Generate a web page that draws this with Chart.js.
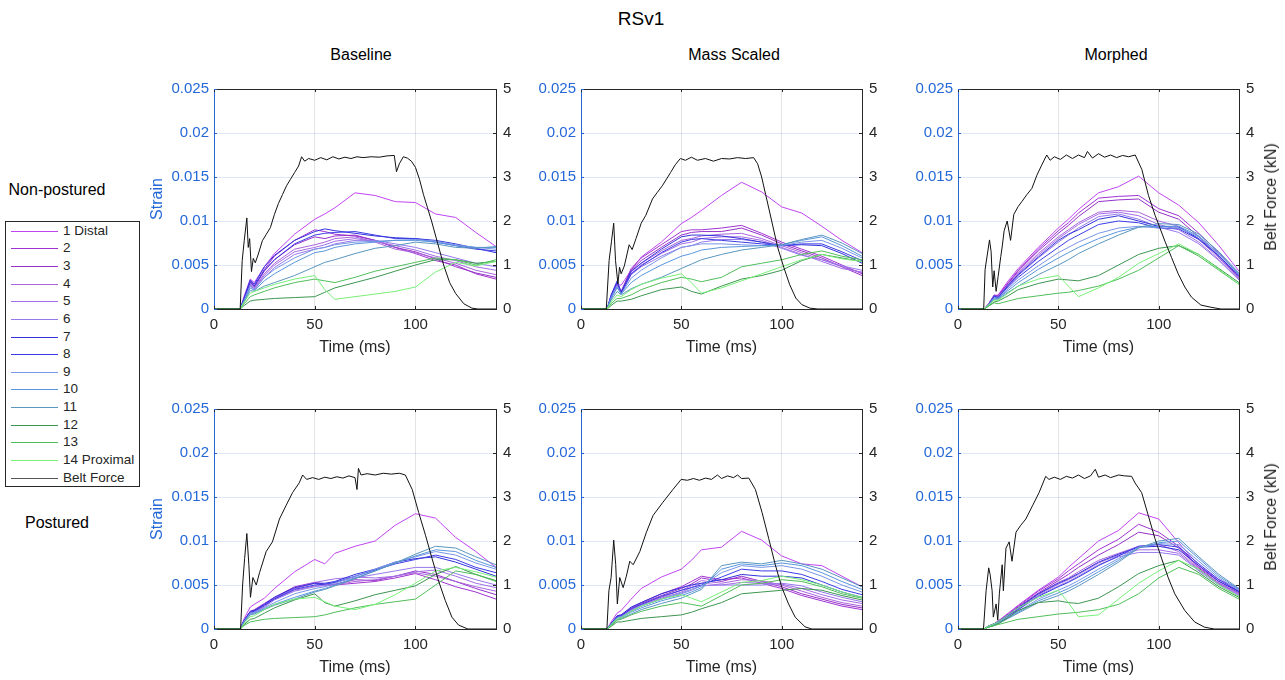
<!DOCTYPE html>
<html>
<head>
<meta charset="utf-8">
<script src="https://cdn.jsdelivr.net/npm/chart.js@4.4.1/dist/chart.umd.min.js"></script>
<style>
  body { margin: 0; background: #fff; }
  #fig { position: relative; width: 1285px; height: 680px; overflow: hidden;
         font-family: "Liberation Sans", Arial, Helvetica, sans-serif; color: #262626; background: #fff; }
  #fig canvas { position: absolute; }
  .lbl { position: absolute; white-space: nowrap; transform: translate(-50%, -50%); line-height: 1; }
  .rot { transform: translate(-50%, -50%) rotate(-90deg); }
  #legendBox { position: absolute; left: 5px; top: 221px; width: 135px; height: 266px;
               border: 1px solid #262626; box-sizing: border-box; background: #fff; }
  .legLine { position: absolute; left: 11px; width: 47px; height: 1px; }
  .legText { position: absolute; left: 63px; font-size: 13.5px; line-height: 1; transform: translateY(-50%); white-space: nowrap; }
</style>
</head>
<body>
<div id="fig">
  <div class="lbl" style="left:641px;top:18px;font-size:19px;color:#000">RSv1</div>
  <div id="legendBox"></div>
</div>
<script>
// time axis shared by all strain traces (ms)
const tStrain = [0, 13, 15, 18, 20, 25, 30, 40, 50, 55, 60, 70, 80, 90, 100, 110, 120, 130, 140];

const seriesNames = ['1 Distal', '2', '3', '4', '5', '6', '7', '8', '9', '10', '11', '12', '13', '14 Proximal'];
const seriesColors = ['#c044f2', '#a032d2', '#9632c8', '#aa64dc', '#a46ee6', '#9678eb', '#3232dc',
                      '#3c3ce6', '#7896e6', '#5a96dc', '#5a96be', '#3c9650', '#50be5a', '#78f078'];
const beltName = 'Belt Force';
const beltColor = '#111111';

const columnTitles = ['Baseline', 'Mass Scaled', 'Morphed'];
const rowTitles = ['Non-postured', 'Postured'];

// strain values, in units of 0.001 (one row per gauge, 1 Distal .. 14 Proximal)
const strainBaselineNP = [
  [0,0,1.5,3.4,3.0,4.8,6.3,8.5,10.2,10.8,11.5,13.2,12.9,12.2,12.1,10.8,10.4,8.7,7.1],
  [0,0,1.2,3.2,2.6,4.5,6.0,7.8,9.0,8.8,8.5,8.3,7.8,7.0,6.3,5.5,5.0,4.0,3.4],
  [0,0,1.1,3.0,2.5,4.3,5.6,7.3,8.2,8.0,8.3,8.4,7.8,7.0,6.5,5.7,4.8,4.1,3.6],
  [0,0,1.0,2.9,2.4,4.0,5.2,6.8,7.3,7.6,8.0,8.2,7.6,6.8,6.4,5.8,5.2,4.4,3.9],
  [0,0,1.0,2.8,2.3,3.8,5.0,6.5,7.0,7.3,7.7,8.0,7.7,7.2,6.7,6.0,5.5,4.8,4.4],
  [0,0,0.9,2.7,2.2,3.6,4.7,6.2,6.8,7.0,7.4,7.8,7.8,7.4,7.0,6.4,5.8,5.2,4.8],
  [0,0,1.3,3.3,2.8,4.8,6.1,7.8,8.8,9.1,8.9,8.6,8.3,8.1,8.0,7.8,7.4,6.9,6.4],
  [0,0,1.2,3.1,2.6,4.4,5.6,7.4,8.4,8.6,8.7,8.8,8.4,8.0,8.0,7.6,7.2,6.8,6.6],
  [0,0,1.0,2.6,2.2,3.6,4.5,5.8,6.8,7.0,7.3,7.6,7.7,7.8,7.9,7.7,7.3,7.0,6.8],
  [0,0,0.9,2.4,2.1,3.2,4.0,5.3,6.4,6.6,7.0,7.4,7.6,7.8,7.8,7.6,7.2,7.0,7.0],
  [0,0,0.8,2.1,2.0,2.6,3.0,3.8,4.8,5.3,5.6,6.3,6.9,7.2,7.6,7.4,7.0,6.9,7.1],
  [0,0,0.4,0.9,1.0,1.1,1.2,1.3,1.4,1.9,2.4,3.0,3.6,4.3,5.0,5.6,5.6,5.2,5.4],
  [0,0,0.6,1.4,1.6,2.0,2.4,3.0,3.4,3.2,3.0,3.6,4.3,4.8,5.3,5.8,5.6,5.0,5.6],
  [0,0,0.8,1.8,2.0,2.4,2.8,3.4,3.8,2.2,1.1,1.4,1.7,2.0,2.5,4.2,5.3,4.9,5.4]
];
const strainMassNP = [
  [0,0,1.2,2.8,2.7,4.4,5.9,7.6,9.7,10.4,11.2,12.9,14.4,13.3,11.6,10.9,9.4,7.8,6.4],
  [0,0,1.5,3.0,2.0,4.6,5.8,7.3,8.8,9.0,9.0,9.2,9.5,8.6,7.6,6.8,6.0,5.0,4.0],
  [0,0,1.4,2.9,1.9,4.4,5.5,7.0,8.4,8.7,8.8,8.8,9.2,8.4,7.4,6.6,5.8,4.8,3.8],
  [0,0,1.3,2.8,1.8,4.2,5.2,6.6,7.8,8.0,8.3,8.5,8.6,8.0,7.2,6.4,5.6,4.8,4.1],
  [0,0,1.2,2.7,1.8,4.0,5.0,6.3,7.4,7.6,8.0,8.2,8.2,7.8,7.0,6.2,5.4,4.6,4.2],
  [0,0,1.2,2.6,1.8,3.9,4.8,6.0,7.0,7.2,7.6,7.9,7.9,7.6,6.9,6.1,5.6,4.9,4.4],
  [0,0,1.6,3.2,1.9,4.3,5.2,6.8,8.2,8.4,8.4,8.3,8.0,7.6,7.2,7.3,7.2,6.3,5.2],
  [0,0,1.5,3.0,1.8,4.0,4.9,6.4,7.6,7.9,8.0,7.8,7.6,7.4,7.2,7.4,7.4,6.5,5.5],
  [0,0,1.3,2.6,1.7,3.5,4.4,5.8,7.0,7.2,7.4,7.4,7.3,7.2,7.2,7.6,7.8,6.9,5.8],
  [0,0,1.2,2.4,1.7,3.0,3.8,5.0,6.0,6.3,6.7,7.0,7.1,7.2,7.3,7.8,8.2,7.2,6.0],
  [0,0,1.0,2.0,1.6,2.3,2.8,3.6,4.6,5.1,5.6,6.2,6.7,7.0,7.3,7.9,8.4,7.5,6.3],
  [0,0,0.4,0.9,0.9,1.1,1.5,2.2,2.5,2.0,1.7,2.6,3.4,3.8,4.4,5.5,6.2,5.8,5.4],
  [0,0,0.6,1.2,1.2,1.6,2.2,3.0,3.6,3.4,3.1,3.6,4.8,5.2,5.6,6.2,6.6,6.0,5.6],
  [0,0,0.8,1.6,1.4,2.2,2.8,3.5,4.0,3.0,1.8,2.4,3.2,4.0,4.8,5.6,6.2,5.7,5.4]
];
const strainMorphedNP = [
  [0,0,0.5,1.5,1.6,3.2,4.6,7.0,9.2,10.2,11.3,13.2,13.9,15.1,13.2,11.8,9.8,7.2,4.3],
  [0,0,0.5,1.6,1.5,3.0,4.4,6.8,8.9,9.8,10.9,12.6,12.8,12.9,11.4,10.6,8.6,6.4,3.9],
  [0,0,0.5,1.5,1.5,2.9,4.3,6.6,8.6,9.5,10.5,12.2,12.4,12.5,11.0,10.2,8.2,6.0,3.6],
  [0,0,0.5,1.5,1.4,2.8,4.1,6.3,8.2,9.0,9.8,11.0,11.2,11.0,10.0,9.4,7.9,5.8,3.5],
  [0,0,0.5,1.4,1.4,2.7,4.0,6.1,8.0,8.8,9.6,10.8,11.0,10.6,9.6,9.0,7.6,5.6,3.4],
  [0,0,0.4,1.4,1.3,2.6,3.8,5.8,7.6,8.4,9.2,10.5,10.8,10.2,9.3,8.7,7.4,5.5,3.3],
  [0,0,0.4,1.5,1.3,2.7,3.9,5.9,7.8,8.5,9.0,10.2,10.6,10.0,9.4,9.3,8.0,6.0,3.8],
  [0,0,0.4,1.4,1.3,2.5,3.6,5.4,7.0,7.8,8.4,9.6,10.0,9.8,9.2,9.1,7.9,6.0,3.7],
  [0,0,0.4,1.3,1.2,2.3,3.3,4.9,6.4,7.0,7.6,8.6,9.2,9.4,9.2,9.2,8.2,6.2,3.9],
  [0,0,0.4,1.2,1.2,2.1,3.0,4.5,5.8,6.4,7.0,8.0,8.8,9.3,9.4,9.4,8.3,6.3,4.0],
  [0,0,0.3,1.1,1.1,1.9,2.6,3.9,5.0,5.6,6.3,7.4,8.4,9.3,9.7,9.6,8.5,6.5,4.1],
  [0,0,0.3,0.8,0.9,1.5,2.2,2.9,3.4,3.3,3.2,3.8,5.0,6.2,6.9,7.2,6.2,4.6,3.0],
  [0,0,0.3,0.7,0.6,0.9,1.2,1.5,1.8,1.9,2.1,2.6,3.4,4.4,5.8,7.2,6.0,4.4,2.8],
  [0,0,0.4,1.0,1.0,1.8,2.6,3.4,3.8,2.6,1.4,2.4,3.6,5.2,6.3,7.4,6.2,4.5,2.8]
];
const strainBaselineP = [
  [0,0,1.2,2.5,2.8,3.5,4.6,6.5,7.9,7.4,8.6,9.4,10.0,11.8,13.1,12.6,10.4,8.8,7.0],
  [0,0,1.0,2.0,2.2,2.9,3.6,4.8,5.3,5.1,5.0,5.2,5.4,5.8,6.3,5.6,4.8,4.2,3.4],
  [0,0,1.0,2.0,2.1,2.8,3.5,4.6,5.2,5.0,5.1,5.6,5.5,6.0,6.6,6.2,5.4,4.6,3.9],
  [0,0,0.9,1.9,2.0,2.6,3.4,4.4,4.9,4.9,5.0,5.4,5.6,6.0,6.4,6.0,5.4,4.8,4.3],
  [0,0,0.9,1.9,2.0,2.6,3.5,4.6,5.3,5.5,5.7,5.9,5.8,6.0,6.5,6.7,6.0,5.2,4.7],
  [0,0,0.9,1.8,1.9,2.5,3.3,4.3,4.8,5.0,5.3,5.8,6.2,6.6,7.0,7.0,6.3,5.6,5.0],
  [0,0,1.0,2.0,2.1,2.8,3.6,4.7,5.2,5.2,5.4,6.2,6.8,7.6,8.0,8.2,7.6,6.8,6.0],
  [0,0,1.0,1.9,2.0,2.7,3.4,4.5,5.0,5.1,5.3,6.0,6.7,7.4,7.9,8.4,7.9,7.0,6.4],
  [0,0,0.9,1.8,1.9,2.4,3.0,4.0,4.6,4.8,5.2,6.0,6.8,7.6,8.2,8.8,8.4,7.5,6.8],
  [0,0,0.8,1.7,1.8,2.3,2.8,3.6,4.3,4.6,5.0,5.8,6.6,7.5,8.3,9.0,8.8,7.8,7.0],
  [0,0,0.8,1.6,1.7,2.2,2.7,3.4,4.2,4.5,4.9,5.7,6.6,7.5,8.5,9.4,9.2,8.2,7.3],
  [0,0,0.5,1.1,1.2,1.8,2.4,3.3,4.0,3.0,2.6,3.2,3.9,4.4,4.9,6.2,7.1,6.2,5.5],
  [0,0,0.4,0.8,0.9,1.1,1.2,1.3,1.4,1.6,1.9,2.4,2.8,3.1,3.4,5.0,6.6,6.2,5.4],
  [0,0,0.6,1.4,1.5,2.2,2.8,3.4,3.6,3.1,2.6,2.2,2.8,3.9,5.2,6.6,7.0,6.5,5.9]
];
const strainMassP = [
  [0,0,0.8,1.8,2.1,3.4,4.6,5.9,6.8,7.8,9.0,9.3,11.1,10.1,8.3,7.4,7.2,6.0,4.8],
  [0,0,0.6,1.5,1.6,2.4,3.0,4.0,4.8,5.4,6.0,5.6,5.8,5.2,4.6,3.8,3.2,2.6,2.2],
  [0,0,0.6,1.4,1.5,2.3,2.9,3.8,4.6,5.1,5.8,5.4,6.0,5.4,4.8,4.0,3.4,2.8,2.4],
  [0,0,0.6,1.4,1.5,2.2,2.8,3.6,4.4,4.9,5.5,5.2,5.6,5.5,5.0,4.3,3.6,3.0,2.6],
  [0,0,0.5,1.3,1.4,2.1,2.7,3.5,4.2,4.7,5.2,5.0,5.3,5.2,5.1,4.6,3.9,3.3,2.9],
  [0,0,0.5,1.3,1.4,2.0,2.6,3.4,4.0,4.4,4.9,5.0,5.0,5.0,5.2,4.9,4.2,3.6,3.1],
  [0,0,0.6,1.5,1.6,2.5,3.0,4.0,4.7,5.0,5.2,5.6,6.2,6.0,6.0,5.8,5.0,4.2,3.6],
  [0,0,0.6,1.4,1.5,2.3,2.8,3.7,4.4,4.7,5.0,5.9,6.8,6.6,6.6,6.2,5.4,4.5,3.9],
  [0,0,0.5,1.3,1.4,2.1,2.6,3.4,4.1,4.5,4.9,6.4,7.2,7.0,7.2,6.8,6.0,5.0,4.2],
  [0,0,0.5,1.2,1.3,1.9,2.4,3.2,3.8,4.2,4.7,6.8,7.4,7.2,7.5,7.2,6.4,5.4,4.5],
  [0,0,0.4,1.1,1.2,1.7,2.2,2.9,3.5,4.0,4.5,7.2,7.6,7.4,7.8,7.4,6.8,5.8,4.8],
  [0,0,0.3,0.8,0.8,1.0,1.2,1.4,1.6,1.9,2.3,3.0,4.0,4.2,4.4,4.6,4.4,3.8,3.3],
  [0,0,0.4,1.0,1.1,1.6,2.0,2.6,3.0,2.8,2.6,3.8,5.0,5.2,5.6,5.4,4.8,4.0,3.5],
  [0,0,0.5,1.2,1.3,2.0,2.6,3.4,3.9,3.5,3.1,4.2,5.3,5.5,6.0,5.6,5.0,4.2,3.6]
];
const strainMorphedP = [
  [0,0,0.3,0.6,0.9,1.8,2.7,4.4,5.9,7.0,8.0,10.0,11.2,13.2,12.5,9.8,7.2,5.6,4.6],
  [0,0,0.3,0.6,0.9,1.7,2.6,4.3,5.7,6.6,7.4,9.0,10.2,11.9,11.0,9.4,7.0,5.4,4.3],
  [0,0,0.3,0.6,0.8,1.6,2.5,4.1,5.5,6.2,7.0,8.4,9.6,11.0,10.6,9.2,6.9,5.2,4.1],
  [0,0,0.3,0.5,0.8,1.6,2.4,4.0,5.3,5.8,6.5,7.8,8.6,9.4,9.6,8.8,6.8,5.2,4.0],
  [0,0,0.3,0.5,0.8,1.5,2.3,3.9,5.1,5.6,6.2,7.5,8.4,9.0,9.0,8.6,6.7,5.1,3.9],
  [0,0,0.3,0.5,0.7,1.5,2.2,3.8,4.9,5.4,6.0,7.3,8.2,8.7,8.7,8.4,6.6,5.0,3.8],
  [0,0,0.3,0.6,0.8,1.6,2.4,4.0,5.2,5.7,6.3,7.6,8.5,9.3,9.4,9.0,7.2,5.4,4.2],
  [0,0,0.3,0.5,0.8,1.5,2.2,3.7,4.8,5.3,5.9,7.2,8.3,9.4,9.6,9.3,7.4,5.6,4.3],
  [0,0,0.2,0.5,0.7,1.4,2.0,3.4,4.4,4.9,5.5,6.8,8.0,9.3,9.7,9.6,7.7,5.8,4.4],
  [0,0,0.2,0.5,0.7,1.3,1.9,3.2,4.1,4.6,5.2,6.5,7.8,9.2,9.8,10.0,8.0,6.0,4.5],
  [0,0,0.2,0.4,0.6,1.2,1.8,3.0,3.8,4.3,4.9,6.2,7.6,9.2,10.0,10.3,8.2,6.2,4.6],
  [0,0,0.2,0.4,0.6,1.3,2.1,3.0,3.2,3.0,2.9,3.5,4.8,6.3,7.2,7.8,6.4,4.8,3.6],
  [0,0,0.2,0.4,0.5,0.8,1.1,1.4,1.7,1.8,1.9,2.2,2.8,4.0,5.8,7.0,6.2,4.6,3.4],
  [0,0,0.3,0.6,0.8,1.6,2.4,3.6,4.4,3.0,1.4,1.6,3.4,5.2,6.6,7.8,6.8,5.0,3.7]
];

// belt force traces: [time (ms), force (kN)]
const beltBaselineNP = [[0,0],[13,0],[14,1.1],[15,1.55],[16.3,2.07],[17,1.4],[17.7,1.6],[18.6,0.85],[19.5,1.15],[20.5,1.05],[22,1.25],[24,1.55],[26,1.7],[28,1.85],[30,2.15],[32,2.4],[34,2.6],[36,2.8],[38,2.95],[40,3.1],[42,3.25],[43.5,3.46],[45,3.36],[47,3.42],[50,3.38],[53,3.44],[56,3.39],[59,3.46],[62,3.41],[65,3.45],[68,3.42],[71,3.46],[74,3.44],[78,3.46],[82,3.45],[86,3.48],[89.5,3.49],[90.6,3.12],[92,3.3],[94,3.46],[96,3.43],[98,3.36],[100,3.22],[102,2.95],[104,2.6],[106,2.3],[108,2.0],[111,1.5],[114,1.0],[117,0.6],[120,0.35],[124,0.12],[128,0.02],[131,0],[140,0]];
const beltMassNP = [[0,0],[12.6,0],[14,1.1],[15.2,1.54],[16.3,1.95],[17.2,1.1],[18.4,0.57],[19.2,0.95],[20,0.8],[21.6,0.98],[24,1.46],[25.5,1.35],[27.4,1.6],[30,1.95],[32.3,2.13],[35.6,2.5],[38,2.65],[40.5,2.8],[44.6,3.1],[47,3.28],[49.5,3.42],[52,3.38],[55,3.45],[58,3.38],[62,3.42],[66,3.36],[70,3.42],[74,3.41],[78,3.44],[82,3.42],[86,3.44],[88,3.3],[90,3.0],[92,2.6],[95,2.0],[98,1.4],[101,0.95],[104,0.55],[107,0.25],[110,0.1],[114,0.02],[118,0],[140,0]];
const beltMorphedNP = [[0,0],[12.8,0],[13.5,0.9],[15.7,1.57],[16.5,1.3],[17.3,0.5],[18,0.87],[19,0.4],[20,0.74],[21.3,1.19],[22,1.41],[23,1.78],[24.5,2.0],[26.2,1.56],[27.8,2.15],[30,2.33],[31.8,2.44],[34.3,2.6],[36.8,2.74],[39.3,3.04],[41.7,3.27],[44.2,3.5],[45.9,3.38],[48,3.46],[51,3.4],[54,3.5],[57,3.42],[60,3.5],[63,3.44],[64.5,3.58],[67,3.43],[70,3.53],[73,3.45],[76,3.5],[79,3.44],[82,3.49],[85,3.46],[88.3,3.5],[91.6,3.17],[94.9,2.58],[98.2,2.13],[100.7,1.83],[103.1,1.54],[106.4,1.17],[109.7,0.8],[113,0.5],[116.3,0.27],[121,0.09],[126,0.04],[131,0],[140,0]];
const beltBaselineP = [[0,0],[13.2,0],[14.2,1.0],[15.2,1.6],[16.3,2.17],[17.3,1.46],[18.1,0.72],[19.3,1.17],[21,1.0],[22.6,1.28],[25.9,1.76],[29,1.98],[32.5,2.5],[35.7,2.8],[39,3.1],[42.3,3.32],[44,3.5],[46,3.4],[49,3.44],[52,3.4],[55,3.45],[58,3.42],[61,3.46],[64,3.43],[67,3.48],[70,3.44],[71,3.17],[71.7,3.65],[73,3.5],[76,3.53],[80,3.5],[84,3.54],[88,3.52],[92,3.54],[95,3.5],[98.4,3.17],[101.6,2.65],[105,2.13],[108.2,1.61],[111.5,1.09],[114.8,0.65],[118.1,0.27],[121.4,0.09],[126,0],[140,0]];
const beltMassP = [[0,0],[12.9,0],[13.9,0.87],[15,1.17],[16.3,2.02],[17.3,1.46],[18.1,0.57],[19.3,1.17],[21,0.94],[22.6,1.2],[24.3,1.54],[26,1.46],[29.3,1.76],[32.6,2.2],[35.9,2.58],[40.8,2.88],[45.8,3.17],[49.9,3.4],[53,3.38],[56,3.42],[59,3.38],[62,3.43],[65,3.4],[68,3.5],[70,3.42],[73,3.48],[76,3.44],[78,3.5],[80,3.42],[83.6,3.43],[86.9,3.17],[90.2,2.65],[93.5,2.06],[96.8,1.46],[100.1,0.94],[103.4,0.57],[106.7,0.27],[111.6,0.05],[115,0],[140,0]];
const beltMorphedP = [[0,0],[12.7,0],[14,0.87],[15.3,1.39],[16,1.24],[17,0.87],[17.6,0.27],[19,0.57],[19.8,0.2],[20.6,0.8],[22,1.46],[22.6,0.87],[23.9,1.84],[25.5,1.98],[26.9,1.54],[28.9,2.2],[31.3,2.36],[33.8,2.5],[37.1,2.8],[40.4,3.1],[43.7,3.47],[45.3,3.4],[48,3.45],[51,3.4],[54,3.47],[57,3.43],[60,3.5],[63,3.42],[66,3.48],[68.4,3.63],[70,3.45],[73.3,3.5],[76,3.44],[80,3.5],[83,3.48],[86.5,3.47],[88.2,3.32],[91.5,3.1],[94.8,2.58],[98.1,2.06],[101.4,1.61],[104.7,1.17],[108,0.8],[113,0.42],[117.9,0.16],[122.9,0.04],[127.8,0],[140,0]];

const panels = [
  { row: 0, col: 0, strain: strainBaselineNP, belt: beltBaselineNP },
  { row: 0, col: 1, strain: strainMassNP, belt: beltMassNP },
  { row: 0, col: 2, strain: strainMorphedNP, belt: beltMorphedNP },
  { row: 1, col: 0, strain: strainBaselineP, belt: beltBaselineP },
  { row: 1, col: 1, strain: strainMassP, belt: beltMassP },
  { row: 1, col: 2, strain: strainMorphedP, belt: beltMorphedP }
];

// layout (pixels)
const plotLeft = [214, 581, 958];
const plotWidth = [282, 281, 281];
const plotTop = [85, 405];
const plotHeight = 224;
const padL = 80, padR = 80, padT = 12, padB = 50;
const colTitleX = [361, 734, 1116];
const colTitleY = 55;
const rowTitleX = 57;
const rowTitleY = [190, 523];

const strainBlue = '#2468d8';
const axisDark = '#262626';
const fontFamily = '"Liberation Sans", Arial, Helvetica, sans-serif';

Chart.defaults.font.family = fontFamily;
Chart.defaults.color = axisDark;

const fig = document.getElementById('fig');

function addLabel(text, x, y, size, color, rotate) {
  const d = document.createElement('div');
  d.className = rotate ? 'lbl rot' : 'lbl';
  d.textContent = text;
  d.style.left = x + 'px';
  d.style.top = y + 'px';
  d.style.fontSize = size + 'px';
  if (color) d.style.color = color;
  fig.appendChild(d);
}

columnTitles.forEach((t, i) => addLabel(t, colTitleX[i], colTitleY, 16, '#000'));
rowTitles.forEach((t, i) => addLabel(t, rowTitleX, rowTitleY[i], 16, '#000'));

// legend
const legendNames = seriesNames.concat([beltName]);
const legendColors = seriesColors.concat(['#555555']);
legendNames.forEach((name, i) => {
  const cy = 230.7 + i * 17.64;
  const ln = document.createElement('div');
  ln.className = 'legLine';
  ln.style.top = Math.round(cy) + 'px';
  ln.style.background = legendColors[i];
  fig.appendChild(ln);
  const tx = document.createElement('div');
  tx.className = 'legText';
  tx.style.top = cy + 'px';
  tx.textContent = name;
  fig.appendChild(tx);
});

// box outline and inward ticks like the original axes
const boxPlugin = {
  id: 'boxTicks',
  afterDraw(chart) {
    const { ctx, chartArea: a, scales } = chart;
    const len = 3;
    ctx.save();
    ctx.lineWidth = 1;
    ctx.strokeStyle = axisDark;
    ctx.beginPath();
    ctx.moveTo(a.left, Math.round(a.top) + 0.5);
    ctx.lineTo(a.right, Math.round(a.top) + 0.5);
    scales.x.ticks.forEach(t => {
      const px = Math.round(scales.x.getPixelForValue(t.value)) + 0.5;
      ctx.moveTo(px, a.bottom); ctx.lineTo(px, a.bottom - len);
      ctx.moveTo(px, a.top); ctx.lineTo(px, a.top + len);
    });
    scales.y2.ticks.forEach(t => {
      const py = Math.round(scales.y2.getPixelForValue(t.value)) + 0.5;
      ctx.moveTo(a.right, py); ctx.lineTo(a.right - len, py);
    });
    ctx.stroke();
    ctx.strokeStyle = strainBlue;
    ctx.beginPath();
    scales.y.ticks.forEach(t => {
      const py = Math.round(scales.y.getPixelForValue(t.value)) + 0.5;
      ctx.moveTo(a.left, py); ctx.lineTo(a.left + len, py);
    });
    ctx.stroke();
    ctx.restore();
  }
};

panels.forEach(p => {
  const canvas = document.createElement('canvas');
  const w = plotWidth[p.col] + padL + padR;
  const h = plotHeight + padT + padB;
  canvas.width = w;
  canvas.height = h;
  canvas.style.left = (plotLeft[p.col] - padL) + 'px';
  canvas.style.top = (plotTop[p.row] - padT) + 'px';
  canvas.style.width = w + 'px';
  canvas.style.height = h + 'px';
  fig.appendChild(canvas);

  // belt force first so it is drawn on top, then gauges 14..1
  const datasets = [{
    label: beltName,
    data: p.belt.map(pt => ({ x: pt[0], y: pt[1] })),
    borderColor: beltColor,
    borderWidth: 1,
    yAxisID: 'y2'
  }];
  for (let i = p.strain.length - 1; i >= 0; i--) {
    datasets.push({
      label: seriesNames[i],
      data: tStrain.map((t, k) => ({ x: t, y: p.strain[i][k] / 1000 })),
      borderColor: seriesColors[i],
      borderWidth: 1,
      yAxisID: 'y'
    });
  }

  new Chart(canvas, {
    type: 'line',
    data: { datasets },
    options: {
      responsive: false,
      animation: false,
      events: [],
      layout: { padding: { top: padT, left: 0, right: 0, bottom: 0 } },
      elements: { point: { radius: 0 }, line: { tension: 0 } },
      plugins: { legend: { display: false }, tooltip: { enabled: false } },
      scales: {
        x: {
          type: 'linear', min: 0, max: 140,
          ticks: { stepSize: 50, includeBounds: false, color: axisDark, font: { size: 15 }, padding: 7, maxRotation: 0 },
          grid: { color: 'rgba(38,38,38,0.13)', drawTicks: false },
          border: { color: axisDark },
          title: { display: true, text: 'Time (ms)', color: axisDark, font: { size: 16 }, padding: { top: 0, bottom: 2 } },
          afterFit: s => { s.height = padB; }
        },
        y: {
          position: 'left', min: 0, max: 0.025,
          ticks: { stepSize: 0.005, color: strainBlue, font: { size: 15 }, padding: 5,
                   callback: v => String(Number(v.toFixed(3))) },
          grid: { color: 'rgba(36,104,216,0.15)', drawTicks: false },
          border: { color: strainBlue },
          title: { display: p.col === 0, text: 'Strain', color: strainBlue, font: { size: 16 }, padding: { top: 14, bottom: 0 } },
          afterFit: s => { s.width = padL; }
        },
        y2: {
          position: 'right', min: 0, max: 5,
          ticks: { stepSize: 1, color: axisDark, font: { size: 15 }, padding: 7 },
          grid: { display: false, drawTicks: false },
          border: { color: axisDark },
          afterFit: s => { s.width = padR; }
        }
      }
    },
    plugins: [boxPlugin]
  });

  if (p.col === 2) {
    addLabel('Belt Force (kN)', 1271, plotTop[p.row] + plotHeight / 2, 16, axisDark, true);
  }
});
</script>
</body>
</html>
